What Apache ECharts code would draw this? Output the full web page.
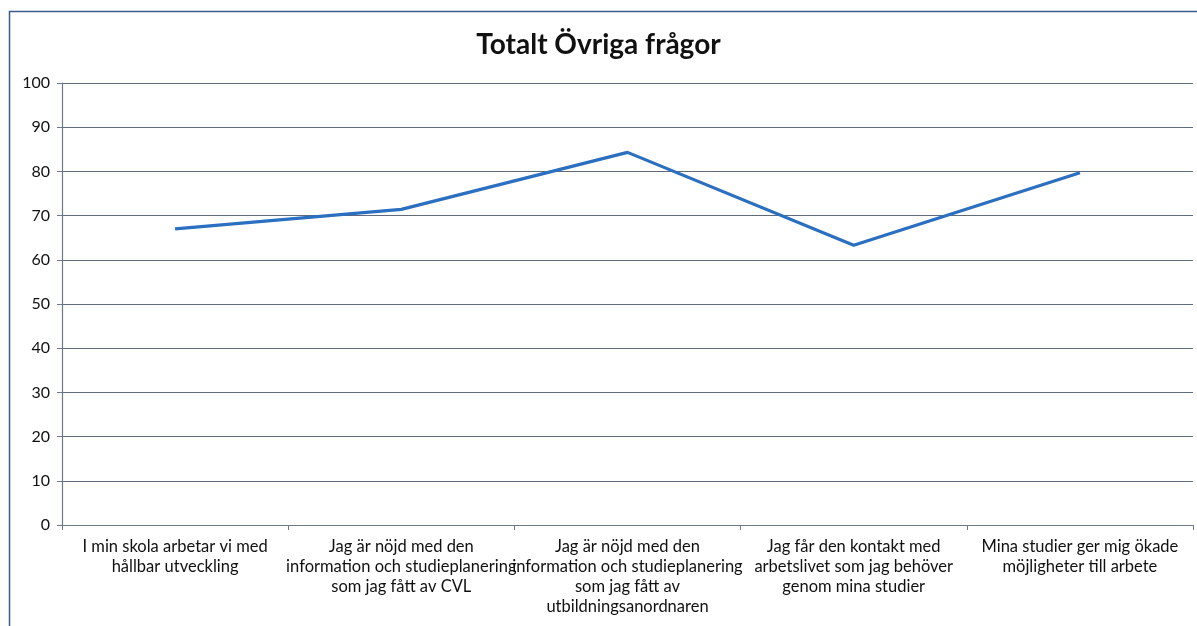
<!DOCTYPE html>
<html>
    <head>
        <meta charset="utf-8">
        <title>Totalt Övriga frågor</title>
        <script src="https://cdn.jsdelivr.net/npm/echarts@6/dist/echarts.min.js"></script>
        <style>
            html, body { margin: 0; padding: 0; background: #fff; }
            #chart1 { width: 1197px; height: 626px; }
        </style>
    </head>
    <body>
        <!-- 图表容器 -->
        <div id="chart1"></div>

        <script type="text/javascript">
            // 类目与数据
            var categories = [
                'I min skola arbetar vi med\nhållbar utveckling',
                'Jag är nöjd med den\ninformation och studieplanering\nsom jag fått av CVL',
                'Jag är nöjd med den\ninformation och studieplanering\nsom jag fått av\nutbildningsanordnaren',
                'Jag får den kontakt med\narbetslivet som jag behöver\ngenom mina studier',
                'Mina studier ger mig ökade\nmöjligheter till arbete'
            ];
            var values = [67.0, 71.4, 84.3, 63.3, 79.7];
            var yTicks = { min: 0, max: 100, interval: 10 };

            var font = 'Lato, "Open Sans", sans-serif';
            var myChart1 = echarts.init(document.getElementById('chart1'));

            myChart1.setOption({
                animation: false,
                title: {
                    text: 'Totalt Övriga frågor',
                    left: 'center',
                    top: 26,
                    textStyle: { fontFamily: font, fontSize: 28, fontWeight: 'bold', color: '#111' }
                },
                graphic: [{
                    type: 'rect',
                    shape: { x: 9.5, y: 11.5, width: 1400, height: 800 },
                    style: { fill: 'none', stroke: '#3c5c8c', lineWidth: 1.5 }
                }],
                grid: { left: 62, right: 4, top: 83, bottom: 101 },
                xAxis: {
                    type: 'category',
                    data: categories,
                    boundaryGap: true,
                    axisLine: { lineStyle: { color: '#6e7887', width: 1.2 } },
                    axisTick: { show: true, length: 5, interval: 0, lineStyle: { color: '#6e7887' } },
                    axisLabel: {
                        interval: 0,
                        margin: 12,
                        fontFamily: font,
                        fontSize: 16.5,
                        lineHeight: 20,
                        color: '#111'
                    }
                },
                yAxis: {
                    type: 'value',
                    min: yTicks.min,
                    max: yTicks.max,
                    interval: yTicks.interval,
                    axisLine: { show: true, lineStyle: { color: '#6e7887', width: 1.2 } },
                    axisTick: { show: true, length: 5, lineStyle: { color: '#6e7887' } },
                    axisLabel: { margin: 12, fontFamily: font, fontSize: 16, color: '#111' },
                    splitLine: { lineStyle: { color: '#5f6a7a', width: 1.2 } }
                },
                series: [{
                    name: 'Totalt',
                    type: 'line',
                    data: values,
                    symbol: 'none',
                    lineStyle: { color: '#2a6fc0', width: 3.2 }
                }]
            });
        </script>
    </body>
</html>
